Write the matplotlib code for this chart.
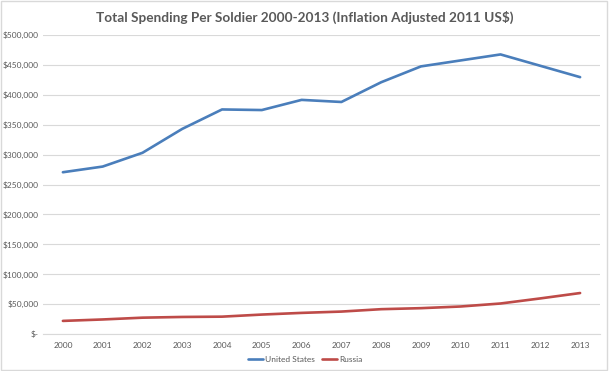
import numpy as np
import matplotlib
matplotlib.use("Agg")
import matplotlib.pyplot as plt
from matplotlib.ticker import FuncFormatter

years = ["2000", "2001", "2002", "2003", "2004", "2005", "2006",
         "2007", "2008", "2009", "2010", "2011", "2012", "2013"]
us = [270500, 280000, 303000, 343000, 375500, 374500, 391500,
      388000, 421000, 447500, 457500, 467500, 448500, 429500]
russia = [21900, 24300, 27300, 28500, 29000, 32500, 35300,
          37500, 41500, 43200, 46000, 51000, 59500, 68500]

plt.rcParams['font.family'] = ['Lato', 'DejaVu Sans']

fig = plt.figure(figsize=(6.1, 3.71), dpi=100)
ax = fig.add_axes([43/610, 1 - 334/371, (600-43)/610, (334-35)/371])

x = np.arange(len(years))
ax.plot(x, us, color='#4a7ebb', lw=1.9, label='United States', solid_capstyle='round')
ax.plot(x, russia, color='#be4b48', lw=1.9, label='Russia', solid_capstyle='round')

ax.set_xlim(-0.5, len(years) - 0.5)
ax.set_ylim(0, 500000)
ax.set_yticks(np.arange(0, 500001, 50000))
ax.yaxis.set_major_formatter(FuncFormatter(lambda v, p: '$-' if v == 0 else f'${v:,.0f}'))
ax.set_xticks(x)
ax.set_xticklabels(years)
ax.tick_params(axis='both', length=0, labelsize=6, colors='#595959')
ax.tick_params(axis='x', pad=6)
ax.tick_params(axis='y', pad=3)
ax.grid(axis='y', color='#d9d9d9', lw=0.8)
ax.set_axisbelow(True)
for s in ['top', 'right', 'left']:
    ax.spines[s].set_visible(False)
ax.spines['bottom'].set_color('#d9d9d9')
ax.spines['bottom'].set_linewidth(0.8)

fig.text(0.5, 1 - 17/371, 'Total Spending Per Soldier 2000-2013 (Inflation Adjusted 2011 US$)',
         ha='center', va='center', fontsize=9.8, fontweight='bold', color='#595959')

fig.legend(loc='center', bbox_to_anchor=(0.5, 1 - 359/371), ncol=2, frameon=False,
           fontsize=6, labelcolor='#595959', handlelength=1.8, handletextpad=0.3,
           columnspacing=0.8)

# light chart border like the spreadsheet export
fig.patches.append(plt.Rectangle((0.002, 0.003), 0.993, 0.994, transform=fig.transFigure,
                                 fill=False, edgecolor='#d9d9d9', lw=1.0))

fig.savefig('out.png', dpi=100)
